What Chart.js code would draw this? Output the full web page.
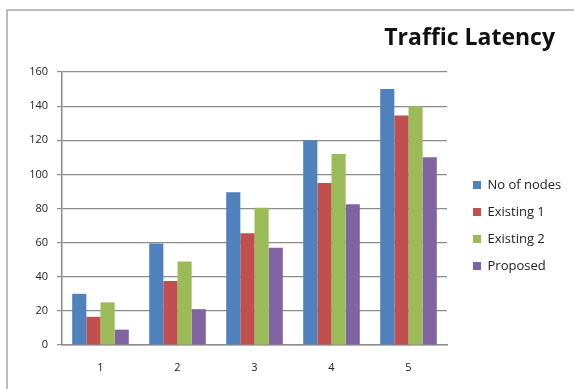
<!DOCTYPE html>
<html>
<head>
<meta charset="utf-8">
<script src="https://cdn.jsdelivr.net/npm/chart.js@4.4.1/dist/chart.umd.min.js"></script>
<style>
  html, body { margin: 0; padding: 0; background: #fff; }
  #wrap { width: 574px; height: 389px; position: relative; }
</style>
</head>
<body>
<div id="wrap"><canvas id="c" width="574" height="389"></canvas></div>
<script>
// Traffic latency per scenario, one series per method
const categories = ['1', '2', '3', '4', '5'];
const noOfNodes  = [30, 59.5, 89.5, 120, 150];
const existing1  = [16.5, 37.5, 65.5, 95, 134.5];
const existing2  = [25, 49, 80.5, 112, 140];
const proposed   = [9, 21, 57, 82.5, 110];
const yTicks     = [0, 20, 40, 60, 80, 100, 120, 140, 160];

const FONT = '"Open Sans", Lato, sans-serif';
const GRID = '#8c8c8c';

// Light gray frame around the chart area (left and top edges)
const framePlugin = {
  id: 'frame',
  beforeDraw(chart) {
    const ctx = chart.ctx;
    ctx.save();
    ctx.fillStyle = '#ffffff';
    ctx.fillRect(0, 0, chart.width, chart.height);
    ctx.strokeStyle = '#a8a8a8';
    ctx.lineWidth = 1.5;
    ctx.beginPath();
    ctx.moveTo(7, chart.height);
    ctx.lineTo(7, 10);
    ctx.lineTo(chart.width, 10);
    ctx.stroke();
    ctx.restore();
  }
};

// Fixes the legend column width and places legend / title blocks
const placePlugin = {
  id: 'place',
  beforeLayout(chart) {
    const lg = chart.legend;
    if (lg && !lg._fixed) {
      const fit = lg.fit.bind(lg);
      lg.fit = function () { fit(); this.width = 127; };
      lg._fixed = true;
    }
  },
  afterLayout(chart) {
    const lg = chart.legend;
    if (lg) {
      const pad = lg.options.labels.padding;
      const w = lg.right - lg.left;
      lg.left = 473 - pad; lg.right = lg.left + w;
      const h = lg.bottom - lg.top;
      lg.top = 185 - 6.5 - pad; lg.bottom = lg.top + h;
    }
    const t = chart.titleBlock;
    if (t) {
      t.right = 555;
    }
  }
};

new Chart(document.getElementById('c'), {
  type: 'bar',
  data: {
    labels: categories,
    datasets: [
      { label: 'No of nodes', data: noOfNodes, backgroundColor: '#4f81bd' },
      { label: 'Existing 1',  data: existing1, backgroundColor: '#c0504d' },
      { label: 'Existing 2',  data: existing2, backgroundColor: '#9bbb59' },
      { label: 'Proposed',    data: proposed,  backgroundColor: '#8064a2' }
    ]
  },
  options: {
    responsive: false,
    animation: false,
    devicePixelRatio: 1,
    layout: { padding: { left: 0, right: 0, top: 0, bottom: 0 } },
    datasets: {
      bar: { categoryPercentage: 0.735, barPercentage: 1.0, borderWidth: 0 }
    },
    plugins: {
      title: {
        display: true,
        text: 'Traffic Latency',
        align: 'end',
        color: '#111',
        font: { family: FONT, size: 23, weight: 'bold' },
        padding: { top: 25, bottom: 19.4 }
      },
      legend: {
        display: true,
        position: 'right',
        align: 'start',
        labels: {
          color: '#222',
          font: { family: FONT, size: 13 },
          boxWidth: 8,
          boxHeight: 8,
          padding: 14
        }
      },
      tooltip: { enabled: false }
    },
    scales: {
      x: {
        grid: { display: false, drawTicks: false },
        border: { display: true, color: GRID, width: 1.5 },
        ticks: { color: '#222', font: { family: FONT, size: 11 }, padding: 16 },
        afterFit(s) { s.height = 44; }
      },
      y: {
        min: 0,
        max: 160,
        afterBuildTicks(s) { s.ticks = yTicks.map(v => ({ value: v })); },
        grid: { color: GRID, lineWidth: 1.2, drawTicks: true, tickLength: 5 },
        border: { display: true, color: GRID, width: 1.5 },
        ticks: { color: '#222', font: { family: FONT, size: 11 }, padding: 9 },
        afterFit(s) { s.width = 62; }
      }
    }
  },
  plugins: [framePlugin, placePlugin]
});
</script>
</body>
</html>
